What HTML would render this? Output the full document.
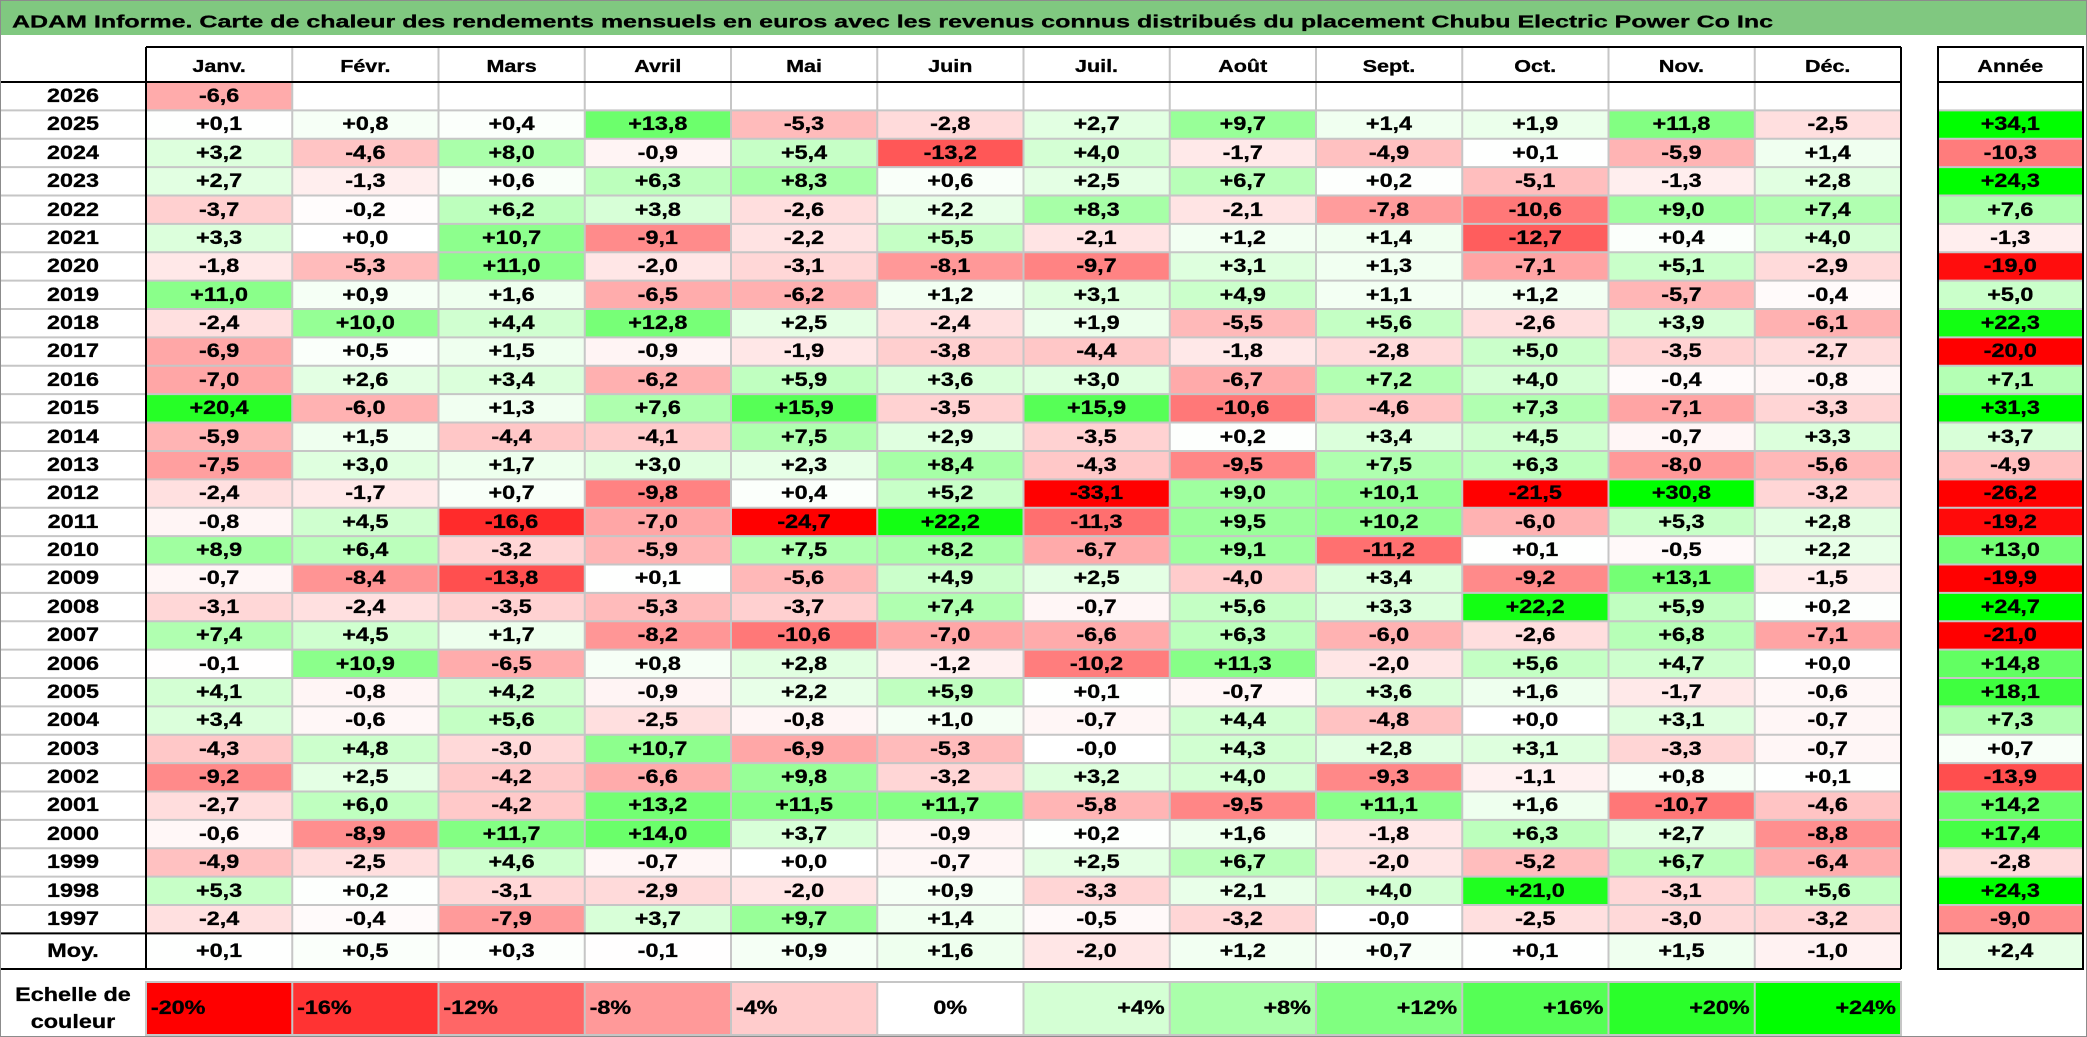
<!DOCTYPE html>
<html><head><meta charset="utf-8">
<style>
html,body{margin:0;padding:0}
body{width:2087px;height:1037px;background:#fff;overflow:hidden;position:relative}
#w{position:absolute;left:0;top:0;width:1697px;height:1037px;transform:scaleX(1.23);transform-origin:0 0;font-family:"Liberation Sans",sans-serif;color:#000;-webkit-text-stroke:0.3px #000}
.r{display:flex;height:28.38px;font:bold 19px/30.8px "Liberation Sans",sans-serif;white-space:nowrap}
.r>*{flex:none;width:118.9px;text-align:center;font-style:normal;font-weight:bold;box-sizing:border-box;overflow:visible}
.r>i{width:118.7px}
.r>em{margin-left:30.08px;width:117.89px}
.h{position:absolute;left:0;top:47px;height:35px;font-size:17.5px;line-height:39.3px}
#d{position:absolute;left:0;top:82px}
.m{height:35.6px;line-height:38px}
.g{position:absolute;left:0;top:982px;height:53px;line-height:54.8px}
.g>i{line-height:27.3px}
.g>b.n{text-align:left;padding-left:4px}
.g>b.p{text-align:right;padding-right:4px}
svg{position:absolute;left:0;top:0}
</style></head><body>
<div id="w">
<div class="r h"><i></i><b>Janv.</b><b>Févr.</b><b>Mars</b><b>Avril</b><b>Mai</b><b>Juin</b><b>Juil.</b><b>Août</b><b>Sept.</b><b>Oct.</b><b>Nov.</b><b>Déc.</b><em>Année</em></div>
<div id="d">
<div class="r"><i>2026</i><b style="background:#ffabab">-6,6</b><b></b><b></b><b></b><b></b><b></b><b></b><b></b><b></b><b></b><b></b><b></b><em></em></div>
<div class="r"><i>2025</i><b style="background:#fefffe">+0,1</b><b style="background:#f6fff6">+0,8</b><b style="background:#fbfffb">+0,4</b><b style="background:#6cff6c">+13,8</b><b style="background:#ffbbbb">-5,3</b><b style="background:#ffdbdb">-2,8</b><b style="background:#e2ffe2">+2,7</b><b style="background:#98ff98">+9,7</b><b style="background:#f0fff0">+1,4</b><b style="background:#ebffeb">+1,9</b><b style="background:#82ff82">+11,8</b><b style="background:#ffdfdf">-2,5</b><em style="background:#00ff00">+34,1</em></div>
<div class="r"><i>2024</i><b style="background:#ddffdd">+3,2</b><b style="background:#ffc4c4">-4,6</b><b style="background:#aaffaa">+8,0</b><b style="background:#fff4f4">-0,9</b><b style="background:#c6ffc6">+5,4</b><b style="background:#ff5757">-13,2</b><b style="background:#d4ffd4">+4,0</b><b style="background:#ffe9e9">-1,7</b><b style="background:#ffc1c1">-4,9</b><b style="background:#fefffe">+0,1</b><b style="background:#ffb4b4">-5,9</b><b style="background:#f0fff0">+1,4</b><em style="background:#ff7c7c">-10,3</em></div>
<div class="r"><i>2023</i><b style="background:#e2ffe2">+2,7</b><b style="background:#ffeeee">-1,3</b><b style="background:#f9fff9">+0,6</b><b style="background:#bcffbc">+6,3</b><b style="background:#a7ffa7">+8,3</b><b style="background:#f9fff9">+0,6</b><b style="background:#e4ffe4">+2,5</b><b style="background:#b8ffb8">+6,7</b><b style="background:#fdfffd">+0,2</b><b style="background:#ffbebe">-5,1</b><b style="background:#ffeeee">-1,3</b><b style="background:#e1ffe1">+2,8</b><em style="background:#00ff00">+24,3</em></div>
<div class="r"><i>2022</i><b style="background:#ffd0d0">-3,7</b><b style="background:#fffcfc">-0,2</b><b style="background:#bdffbd">+6,2</b><b style="background:#d7ffd7">+3,8</b><b style="background:#ffdede">-2,6</b><b style="background:#e8ffe8">+2,2</b><b style="background:#a7ffa7">+8,3</b><b style="background:#ffe4e4">-2,1</b><b style="background:#ff9c9c">-7,8</b><b style="background:#ff7878">-10,6</b><b style="background:#9fff9f">+9,0</b><b style="background:#b0ffb0">+7,4</b><em style="background:#aeffae">+7,6</em></div>
<div class="r"><i>2021</i><b style="background:#dcffdc">+3,3</b><b>+0,0</b><b style="background:#8dff8d">+10,7</b><b style="background:#ff8b8b">-9,1</b><b style="background:#ffe3e3">-2,2</b><b style="background:#c5ffc5">+5,5</b><b style="background:#ffe4e4">-2,1</b><b style="background:#f2fff2">+1,2</b><b style="background:#f0fff0">+1,4</b><b style="background:#ff5d5d">-12,7</b><b style="background:#fbfffb">+0,4</b><b style="background:#d4ffd4">+4,0</b><em style="background:#ffeeee">-1,3</em></div>
<div class="r"><i>2020</i><b style="background:#ffe8e8">-1,8</b><b style="background:#ffbbbb">-5,3</b><b style="background:#8aff8a">+11,0</b><b style="background:#ffe6e6">-2,0</b><b style="background:#ffd7d7">-3,1</b><b style="background:#ff9898">-8,1</b><b style="background:#ff8383">-9,7</b><b style="background:#deffde">+3,1</b><b style="background:#f1fff1">+1,3</b><b style="background:#ffa4a4">-7,1</b><b style="background:#c9ffc9">+5,1</b><b style="background:#ffdada">-2,9</b><em style="background:#ff0d0d">-19,0</em></div>
<div class="r"><i>2019</i><b style="background:#8aff8a">+11,0</b><b style="background:#f5fff5">+0,9</b><b style="background:#eeffee">+1,6</b><b style="background:#ffacac">-6,5</b><b style="background:#ffb0b0">-6,2</b><b style="background:#f2fff2">+1,2</b><b style="background:#deffde">+3,1</b><b style="background:#cbffcb">+4,9</b><b style="background:#f3fff3">+1,1</b><b style="background:#f2fff2">+1,2</b><b style="background:#ffb6b6">-5,7</b><b style="background:#fffafa">-0,4</b><em style="background:#caffca">+5,0</em></div>
<div class="r"><i>2018</i><b style="background:#ffe0e0">-2,4</b><b style="background:#95ff95">+10,0</b><b style="background:#d0ffd0">+4,4</b><b style="background:#77ff77">+12,8</b><b style="background:#e4ffe4">+2,5</b><b style="background:#ffe0e0">-2,4</b><b style="background:#ebffeb">+1,9</b><b style="background:#ffb9b9">-5,5</b><b style="background:#c4ffc4">+5,6</b><b style="background:#ffdede">-2,6</b><b style="background:#d6ffd6">+3,9</b><b style="background:#ffb1b1">-6,1</b><em style="background:#12ff12">+22,3</em></div>
<div class="r"><i>2017</i><b style="background:#ffa7a7">-6,9</b><b style="background:#fafffa">+0,5</b><b style="background:#efffef">+1,5</b><b style="background:#fff4f4">-0,9</b><b style="background:#ffe7e7">-1,9</b><b style="background:#ffcfcf">-3,8</b><b style="background:#ffc7c7">-4,4</b><b style="background:#ffe8e8">-1,8</b><b style="background:#ffdbdb">-2,8</b><b style="background:#caffca">+5,0</b><b style="background:#ffd2d2">-3,5</b><b style="background:#ffdddd">-2,7</b><em style="background:#ff0000">-20,0</em></div>
<div class="r"><i>2016</i><b style="background:#ffa6a6">-7,0</b><b style="background:#e3ffe3">+2,6</b><b style="background:#dbffdb">+3,4</b><b style="background:#ffb0b0">-6,2</b><b style="background:#c0ffc0">+5,9</b><b style="background:#d9ffd9">+3,6</b><b style="background:#dfffdf">+3,0</b><b style="background:#ffaaaa">-6,7</b><b style="background:#b2ffb2">+7,2</b><b style="background:#d4ffd4">+4,0</b><b style="background:#fffafa">-0,4</b><b style="background:#fff5f5">-0,8</b><em style="background:#b4ffb4">+7,1</em></div>
<div class="r"><i>2015</i><b style="background:#26ff26">+20,4</b><b style="background:#ffb2b2">-6,0</b><b style="background:#f1fff1">+1,3</b><b style="background:#aeffae">+7,6</b><b style="background:#56ff56">+15,9</b><b style="background:#ffd2d2">-3,5</b><b style="background:#56ff56">+15,9</b><b style="background:#ff7878">-10,6</b><b style="background:#ffc4c4">-4,6</b><b style="background:#b1ffb1">+7,3</b><b style="background:#ffa4a4">-7,1</b><b style="background:#ffd5d5">-3,3</b><em style="background:#00ff00">+31,3</em></div>
<div class="r"><i>2014</i><b style="background:#ffb4b4">-5,9</b><b style="background:#efffef">+1,5</b><b style="background:#ffc7c7">-4,4</b><b style="background:#ffcbcb">-4,1</b><b style="background:#afffaf">+7,5</b><b style="background:#e0ffe0">+2,9</b><b style="background:#ffd2d2">-3,5</b><b style="background:#fdfffd">+0,2</b><b style="background:#dbffdb">+3,4</b><b style="background:#cfffcf">+4,5</b><b style="background:#fff6f6">-0,7</b><b style="background:#dcffdc">+3,3</b><em style="background:#d8ffd8">+3,7</em></div>
<div class="r"><i>2013</i><b style="background:#ff9f9f">-7,5</b><b style="background:#dfffdf">+3,0</b><b style="background:#edffed">+1,7</b><b style="background:#dfffdf">+3,0</b><b style="background:#e7ffe7">+2,3</b><b style="background:#a6ffa6">+8,4</b><b style="background:#ffc8c8">-4,3</b><b style="background:#ff8686">-9,5</b><b style="background:#afffaf">+7,5</b><b style="background:#bcffbc">+6,3</b><b style="background:#ff9999">-8,0</b><b style="background:#ffb8b8">-5,6</b><em style="background:#ffc1c1">-4,9</em></div>
<div class="r"><i>2012</i><b style="background:#ffe0e0">-2,4</b><b style="background:#ffe9e9">-1,7</b><b style="background:#f8fff8">+0,7</b><b style="background:#ff8282">-9,8</b><b style="background:#fbfffb">+0,4</b><b style="background:#c8ffc8">+5,2</b><b style="background:#ff0000">-33,1</b><b style="background:#9fff9f">+9,0</b><b style="background:#94ff94">+10,1</b><b style="background:#ff0000">-21,5</b><b style="background:#00ff00">+30,8</b><b style="background:#ffd6d6">-3,2</b><em style="background:#ff0000">-26,2</em></div>
<div class="r"><i>2011</i><b style="background:#fff5f5">-0,8</b><b style="background:#cfffcf">+4,5</b><b style="background:#ff2b2b">-16,6</b><b style="background:#ffa6a6">-7,0</b><b style="background:#ff0000">-24,7</b><b style="background:#13ff13">+22,2</b><b style="background:#ff6f6f">-11,3</b><b style="background:#9aff9a">+9,5</b><b style="background:#93ff93">+10,2</b><b style="background:#ffb2b2">-6,0</b><b style="background:#c7ffc7">+5,3</b><b style="background:#e1ffe1">+2,8</b><em style="background:#ff0a0a">-19,2</em></div>
<div class="r"><i>2010</i><b style="background:#a0ffa0">+8,9</b><b style="background:#bbffbb">+6,4</b><b style="background:#ffd6d6">-3,2</b><b style="background:#ffb4b4">-5,9</b><b style="background:#afffaf">+7,5</b><b style="background:#a8ffa8">+8,2</b><b style="background:#ffaaaa">-6,7</b><b style="background:#9eff9e">+9,1</b><b style="background:#ff7070">-11,2</b><b style="background:#fefffe">+0,1</b><b style="background:#fff9f9">-0,5</b><b style="background:#e8ffe8">+2,2</b><em style="background:#75ff75">+13,0</em></div>
<div class="r"><i>2009</i><b style="background:#fff6f6">-0,7</b><b style="background:#ff9494">-8,4</b><b style="background:#ff4f4f">-13,8</b><b style="background:#fefffe">+0,1</b><b style="background:#ffb8b8">-5,6</b><b style="background:#cbffcb">+4,9</b><b style="background:#e4ffe4">+2,5</b><b style="background:#ffcccc">-4,0</b><b style="background:#dbffdb">+3,4</b><b style="background:#ff8a8a">-9,2</b><b style="background:#74ff74">+13,1</b><b style="background:#ffecec">-1,5</b><em style="background:#ff0101">-19,9</em></div>
<div class="r"><i>2008</i><b style="background:#ffd7d7">-3,1</b><b style="background:#ffe0e0">-2,4</b><b style="background:#ffd2d2">-3,5</b><b style="background:#ffbbbb">-5,3</b><b style="background:#ffd0d0">-3,7</b><b style="background:#b0ffb0">+7,4</b><b style="background:#fff6f6">-0,7</b><b style="background:#c4ffc4">+5,6</b><b style="background:#dcffdc">+3,3</b><b style="background:#13ff13">+22,2</b><b style="background:#c0ffc0">+5,9</b><b style="background:#fdfffd">+0,2</b><em style="background:#00ff00">+24,7</em></div>
<div class="r"><i>2007</i><b style="background:#b0ffb0">+7,4</b><b style="background:#cfffcf">+4,5</b><b style="background:#edffed">+1,7</b><b style="background:#ff9696">-8,2</b><b style="background:#ff7878">-10,6</b><b style="background:#ffa6a6">-7,0</b><b style="background:#ffabab">-6,6</b><b style="background:#bcffbc">+6,3</b><b style="background:#ffb2b2">-6,0</b><b style="background:#ffdede">-2,6</b><b style="background:#b7ffb7">+6,8</b><b style="background:#ffa4a4">-7,1</b><em style="background:#ff0000">-21,0</em></div>
<div class="r"><i>2006</i><b style="background:#fffefe">-0,1</b><b style="background:#8bff8b">+10,9</b><b style="background:#ffacac">-6,5</b><b style="background:#f6fff6">+0,8</b><b style="background:#e1ffe1">+2,8</b><b style="background:#fff0f0">-1,2</b><b style="background:#ff7d7d">-10,2</b><b style="background:#87ff87">+11,3</b><b style="background:#ffe6e6">-2,0</b><b style="background:#c4ffc4">+5,6</b><b style="background:#cdffcd">+4,7</b><b>+0,0</b><em style="background:#62ff62">+14,8</em></div>
<div class="r"><i>2005</i><b style="background:#d3ffd3">+4,1</b><b style="background:#fff5f5">-0,8</b><b style="background:#d2ffd2">+4,2</b><b style="background:#fff4f4">-0,9</b><b style="background:#e8ffe8">+2,2</b><b style="background:#c0ffc0">+5,9</b><b style="background:#fefffe">+0,1</b><b style="background:#fff6f6">-0,7</b><b style="background:#d9ffd9">+3,6</b><b style="background:#eeffee">+1,6</b><b style="background:#ffe9e9">-1,7</b><b style="background:#fff7f7">-0,6</b><em style="background:#3fff3f">+18,1</em></div>
<div class="r"><i>2004</i><b style="background:#dbffdb">+3,4</b><b style="background:#fff7f7">-0,6</b><b style="background:#c4ffc4">+5,6</b><b style="background:#ffdfdf">-2,5</b><b style="background:#fff5f5">-0,8</b><b style="background:#f4fff4">+1,0</b><b style="background:#fff6f6">-0,7</b><b style="background:#d0ffd0">+4,4</b><b style="background:#ffc2c2">-4,8</b><b>+0,0</b><b style="background:#deffde">+3,1</b><b style="background:#fff6f6">-0,7</b><em style="background:#b1ffb1">+7,3</em></div>
<div class="r"><i>2003</i><b style="background:#ffc8c8">-4,3</b><b style="background:#ccffcc">+4,8</b><b style="background:#ffd9d9">-3,0</b><b style="background:#8dff8d">+10,7</b><b style="background:#ffa7a7">-6,9</b><b style="background:#ffbbbb">-5,3</b><b>-0,0</b><b style="background:#d1ffd1">+4,3</b><b style="background:#e1ffe1">+2,8</b><b style="background:#deffde">+3,1</b><b style="background:#ffd5d5">-3,3</b><b style="background:#fff6f6">-0,7</b><em style="background:#f8fff8">+0,7</em></div>
<div class="r"><i>2002</i><b style="background:#ff8a8a">-9,2</b><b style="background:#e4ffe4">+2,5</b><b style="background:#ffc9c9">-4,2</b><b style="background:#ffabab">-6,6</b><b style="background:#97ff97">+9,8</b><b style="background:#ffd6d6">-3,2</b><b style="background:#ddffdd">+3,2</b><b style="background:#d4ffd4">+4,0</b><b style="background:#ff8888">-9,3</b><b style="background:#fff1f1">-1,1</b><b style="background:#f6fff6">+0,8</b><b style="background:#fefffe">+0,1</b><em style="background:#ff4e4e">-13,9</em></div>
<div class="r"><i>2001</i><b style="background:#ffdddd">-2,7</b><b style="background:#bfffbf">+6,0</b><b style="background:#ffc9c9">-4,2</b><b style="background:#73ff73">+13,2</b><b style="background:#85ff85">+11,5</b><b style="background:#83ff83">+11,7</b><b style="background:#ffb5b5">-5,8</b><b style="background:#ff8686">-9,5</b><b style="background:#89ff89">+11,1</b><b style="background:#eeffee">+1,6</b><b style="background:#ff7777">-10,7</b><b style="background:#ffc4c4">-4,6</b><em style="background:#68ff68">+14,2</em></div>
<div class="r"><i>2000</i><b style="background:#fff7f7">-0,6</b><b style="background:#ff8e8e">-8,9</b><b style="background:#83ff83">+11,7</b><b style="background:#6aff6a">+14,0</b><b style="background:#d8ffd8">+3,7</b><b style="background:#fff4f4">-0,9</b><b style="background:#fdfffd">+0,2</b><b style="background:#eeffee">+1,6</b><b style="background:#ffe8e8">-1,8</b><b style="background:#bcffbc">+6,3</b><b style="background:#e2ffe2">+2,7</b><b style="background:#ff8f8f">-8,8</b><em style="background:#46ff46">+17,4</em></div>
<div class="r"><i>1999</i><b style="background:#ffc1c1">-4,9</b><b style="background:#ffdfdf">-2,5</b><b style="background:#ceffce">+4,6</b><b style="background:#fff6f6">-0,7</b><b>+0,0</b><b style="background:#fff6f6">-0,7</b><b style="background:#e4ffe4">+2,5</b><b style="background:#b8ffb8">+6,7</b><b style="background:#ffe6e6">-2,0</b><b style="background:#ffbdbd">-5,2</b><b style="background:#b8ffb8">+6,7</b><b style="background:#ffadad">-6,4</b><em style="background:#ffdbdb">-2,8</em></div>
<div class="r"><i>1998</i><b style="background:#c7ffc7">+5,3</b><b style="background:#fdfffd">+0,2</b><b style="background:#ffd7d7">-3,1</b><b style="background:#ffdada">-2,9</b><b style="background:#ffe6e6">-2,0</b><b style="background:#f5fff5">+0,9</b><b style="background:#ffd5d5">-3,3</b><b style="background:#e9ffe9">+2,1</b><b style="background:#d4ffd4">+4,0</b><b style="background:#20ff20">+21,0</b><b style="background:#ffd7d7">-3,1</b><b style="background:#c4ffc4">+5,6</b><em style="background:#00ff00">+24,3</em></div>
<div class="r"><i>1997</i><b style="background:#ffe0e0">-2,4</b><b style="background:#fffafa">-0,4</b><b style="background:#ff9a9a">-7,9</b><b style="background:#d8ffd8">+3,7</b><b style="background:#98ff98">+9,7</b><b style="background:#f0fff0">+1,4</b><b style="background:#fff9f9">-0,5</b><b style="background:#ffd6d6">-3,2</b><b>-0,0</b><b style="background:#ffdfdf">-2,5</b><b style="background:#ffd9d9">-3,0</b><b style="background:#ffd6d6">-3,2</b><em style="background:#ff8c8c">-9,0</em></div>
<div class="r m"><i>Moy.</i><b style="background:#fefffe">+0,1</b><b style="background:#fafffa">+0,5</b><b style="background:#fcfffc">+0,3</b><b style="background:#fffefe">-0,1</b><b style="background:#f5fff5">+0,9</b><b style="background:#eeffee">+1,6</b><b style="background:#ffe6e6">-2,0</b><b style="background:#f2fff2">+1,2</b><b style="background:#f8fff8">+0,7</b><b style="background:#fefffe">+0,1</b><b style="background:#efffef">+1,5</b><b style="background:#fff2f2">-1,0</b><em style="background:#e6ffe6">+2,4</em></div>
</div>
<div class="r g"><i>Echelle de<br>couleur</i><b class="n" style="background:#ff0000">-20%</b><b class="n" style="background:#ff3333">-16%</b><b class="n" style="background:#ff6666">-12%</b><b class="n" style="background:#ff9999">-8%</b><b class="n" style="background:#ffcccc">-4%</b><b>0%</b><b class="p" style="background:#d4ffd4">+4%</b><b class="p" style="background:#aaffaa">+8%</b><b class="p" style="background:#80ff80">+12%</b><b class="p" style="background:#55ff55">+16%</b><b class="p" style="background:#2aff2a">+20%</b><b class="p" style="background:#00ff00">+24%</b></div>
</div>
<svg width="2087" height="1037" viewBox="0 0 2087 1037">
<rect x="1" y="1" width="2085" height="34" fill="#80c880"/>
<text x="12" y="27.3" textLength="1761" lengthAdjust="spacingAndGlyphs" font-family="Liberation Sans, sans-serif" font-weight="bold" font-size="17.5" fill="#000" stroke="#000" stroke-width="0.3">ADAM Informe. Carte de chaleur des rendements mensuels en euros avec les revenus connus distribués du placement Chubu Electric Power Co Inc</text>
<path fill="none" stroke="#c6c6c6" stroke-width="2" d="M0 110.38H1901M1938 110.38H2083M0 138.76H1901M1938 138.76H2083M0 167.14H1901M1938 167.14H2083M0 195.52H1901M1938 195.52H2083M0 223.9H1901M1938 223.9H2083M0 252.28H1901M1938 252.28H2083M0 280.66H1901M1938 280.66H2083M0 309.04H1901M1938 309.04H2083M0 337.42H1901M1938 337.42H2083M0 365.8H1901M1938 365.8H2083M0 394.18H1901M1938 394.18H2083M0 422.56H1901M1938 422.56H2083M0 450.94H1901M1938 450.94H2083M0 479.32H1901M1938 479.32H2083M0 507.7H1901M1938 507.7H2083M0 536.08H1901M1938 536.08H2083M0 564.46H1901M1938 564.46H2083M0 592.84H1901M1938 592.84H2083M0 621.22H1901M1938 621.22H2083M0 649.6H1901M1938 649.6H2083M0 677.98H1901M1938 677.98H2083M0 706.36H1901M1938 706.36H2083M0 734.74H1901M1938 734.74H2083M0 763.12H1901M1938 763.12H2083M0 791.5H1901M1938 791.5H2083M0 819.88H1901M1938 819.88H2083M0 848.26H1901M1938 848.26H2083M0 876.64H1901M1938 876.64H2083M0 905.02H1901M1938 905.02H2083
M292.25 47V969M438.5 47V969M584.75 47V969M731 47V969M877.25 47V969M1023.5 47V969M1169.75 47V969M1316 47V969M1462.25 47V969M1608.5 47V969M1754.75 47V969
M292.25 982V1035M438.5 982V1035M584.75 982V1035M731 982V1035M877.25 982V1035M1023.5 982V1035M1169.75 982V1035M1316 982V1035M1462.25 982V1035M1608.5 982V1035M1754.75 982V1035"/>
<rect x="146" y="982" width="1755" height="53" fill="none" stroke="#c6c6c6" stroke-width="2"/>
<path fill="none" stroke="#000" stroke-width="2" d="M146 47H1901M0 82H1901M1938 82H2083M0 933.4H1901M1938 933.4H2083M0 969H1901M146 47V969M1901 47V969"/>
<rect x="1938" y="47" width="145" height="922" fill="none" stroke="#000" stroke-width="2"/>
<rect x="0.5" y="0.5" width="2086" height="1036" fill="none" stroke="#8c8c8c" stroke-width="1"/>
</svg>
</body></html>
